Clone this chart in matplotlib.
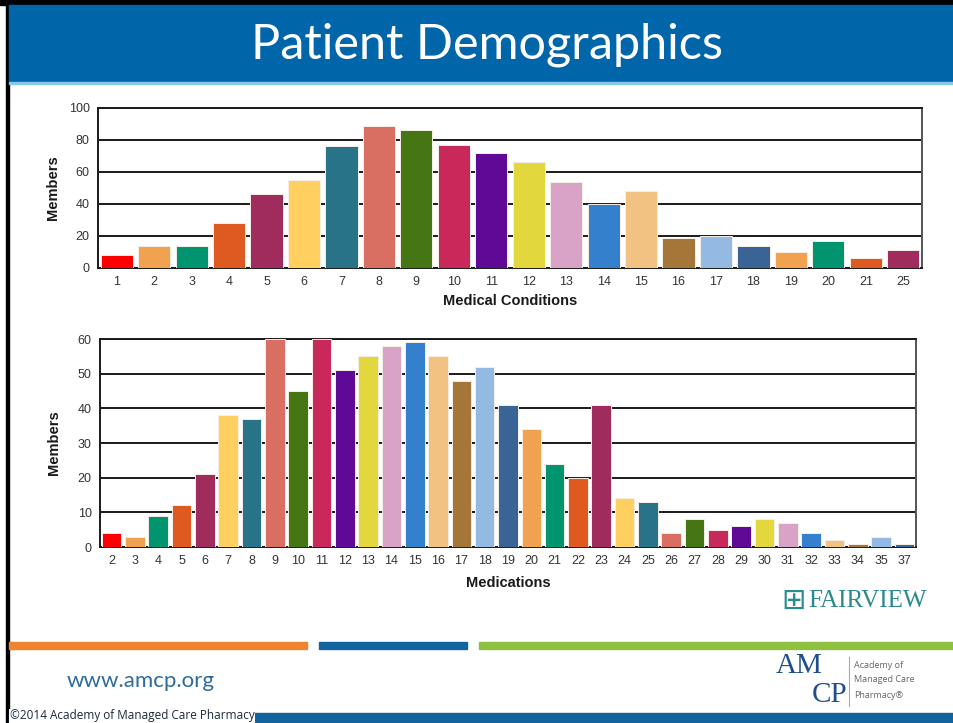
import numpy as np
import matplotlib.pyplot as plt
from matplotlib.patches import Rectangle

# data
cond_labels = ['1', '2', '3', '4', '5', '6', '7', '8', '9', '10', '11', '12', '13',
               '14', '15', '16', '17', '18', '19', '20', '21', '25']
cond_members = [8, 14, 14, 28, 46, 55, 76, 89, 86, 77, 72, 66, 54,
                40, 48, 19, 20, 14, 10, 17, 6, 11]

med_labels = ['2', '3', '4', '5', '6', '7', '8', '9', '10', '11', '12', '13', '14',
              '15', '16', '17', '18', '19', '20', '21', '22', '23', '24', '25', '26',
              '27', '28', '29', '30', '31', '32', '33', '34', '35', '37']
med_members = [4, 3, 9, 12, 21, 38, 37, 60, 45, 60, 51, 55, 58,
               59, 55, 48, 52, 41, 34, 24, 20, 41, 14, 13, 4,
               8, 5, 6, 8, 7, 4, 2, 1, 3, 1]

palette = ['#ff0000', '#f0a250', '#00956e', '#de5a20', '#a02c5e', '#ffd060',
           '#287388', '#d96f62', '#467514', '#c8285a', '#5f0a96', '#e3d73e',
           '#d9a3c8', '#3480cc', '#f2c283', '#a47637', '#94bae3', '#3a6496']


def bar_colors(n):
    # first colour only once, then the rest repeat
    return [palette[i] if i < len(palette) else palette[1 + (i - 1) % (len(palette) - 1)]
            for i in range(n)]


W, H = 954, 723
fig = plt.figure(figsize=(W / 100, H / 100), dpi=100)

# slide background drawn in pixel coordinates
bg = fig.add_axes([0, 0, 1, 1], zorder=0)
bg.set_xlim(0, W)
bg.set_ylim(H, 0)
bg.axis('off')
bg.add_patch(Rectangle((0, 0), W, 5, color='black'))
bg.add_patch(Rectangle((6, 0), 3, H, color='black'))
bg.add_patch(Rectangle((9, 5), W - 9, 77, color='#0065a9'))
bg.add_patch(Rectangle((9, 82), W - 9, 2, color='#86c8ea'))
bg.text(487, 45, 'Patient Demographics', color='white', fontsize=35,
        family='Lato', ha='center', va='center')

bg.add_patch(Rectangle((9, 642), 298, 7, color='#f0832f'))
bg.add_patch(Rectangle((319, 642), 148, 7, color='#13639f'))
bg.add_patch(Rectangle((479, 642), W - 479, 7, color='#8dc13f'))
bg.text(67, 681, 'www.amcp.org', color='#2e6b9b', fontsize=16, family='Lato',
        ha='left', va='center')
bg.add_patch(Rectangle((9, 713), W - 9, 10, color='#13639f'))
bg.text(10, 716, '\u00a92014 Academy of Managed Care Pharmacy', color='#1a2a3a',
        fontsize=8.5, family='Open Sans', ha='left', va='center',
        bbox=dict(facecolor='white', edgecolor='none', pad=0.5))

# Fairview logo
bg.text(794, 601, '\u229e', color='#2a8a8c', fontsize=21, ha='center', va='center')
bg.text(808, 601, 'FAIRVIEW', color='#2a8a8c', fontsize=18,
        family='Liberation Serif', ha='left', va='center')

# AMCP logo
bg.text(776, 666, 'AM', color='#1f4e8c', fontsize=21, family='Liberation Serif',
        ha='left', va='center')
bg.text(812, 695, 'CP', color='#1f4e8c', fontsize=21, family='Liberation Serif',
        ha='left', va='center')
bg.plot([849, 849], [657, 706], color='#aaaaaa', lw=0.8)
for k, line in enumerate(['Academy of', 'Managed Care', 'Pharmacy\u00ae']):
    bg.text(854, 665 + k * 15, line, color='#666666', fontsize=6.5,
            family='Open Sans', ha='left', va='center')


def draw_chart(rect, labels, values, ymax, ystep, xlabel, ylab_x, xlab_y, width):
    l, t, r, b = rect
    ax = fig.add_axes([l / W, 1 - b / H, (r - l) / W, (b - t) / H], zorder=2)
    x = np.arange(len(values))
    ax.bar(x, values, width=width, color=bar_colors(len(values)),
           edgecolor='#f6efe6', linewidth=0.7, zorder=3)
    ax.set_xlim(-0.5, len(values) - 0.5)
    ax.set_ylim(0, ymax)
    ax.set_yticks(np.arange(0, ymax + 1, ystep))
    ax.set_xticks(x)
    ax.set_xticklabels(labels)
    ax.grid(axis='y', color='#1a1a1a', lw=1.4, zorder=1)
    ax.set_axisbelow(True)
    ax.tick_params(length=0, labelsize=9, labelcolor='#333333', pad=6)
    for lab in ax.get_xticklabels() + ax.get_yticklabels():
        lab.set_family('Liberation Sans')
    for s in ax.spines.values():
        s.set_color('#1a1a1a')
        s.set_linewidth(1.4)
    ax.spines['right'].set_color('#555555')
    ax.set_xlabel(xlabel, fontsize=10.5, fontweight='bold', family='Liberation Sans',
                  color='#1a1a1a')
    ax.set_ylabel('Members', fontsize=10.5, fontweight='bold', family='Liberation Sans',
                  color='#1a1a1a')
    ax.xaxis.set_label_coords(0.5, -(xlab_y - b) / (b - t))
    ax.xaxis.label.set_va('center')
    ax.yaxis.set_label_coords(-(l - ylab_x) / (r - l), 0.5)
    ax.yaxis.label.set_va('center')
    return ax


draw_chart((98, 108, 922, 268), cond_labels, cond_members, 100, 20,
           'Medical Conditions', 53, 301, 0.86)
draw_chart((100, 339, 916, 547), med_labels, med_members, 60, 10,
           'Medications', 54, 583, 0.84)

fig.savefig('out.png', dpi=100)
